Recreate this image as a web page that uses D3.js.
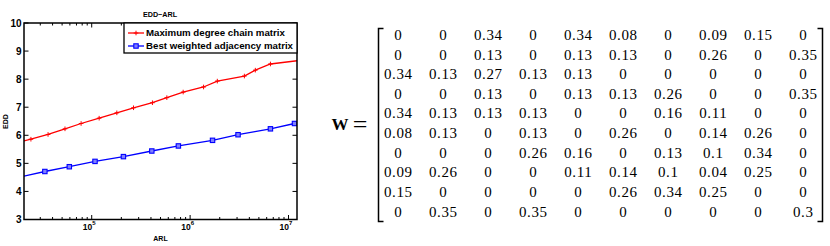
<!DOCTYPE html>
<html>
<head>
<meta charset="utf-8">
<script src="https://cdn.jsdelivr.net/npm/d3@7"></script>
<style>
  html, body { margin: 0; padding: 0; background: #fff; }
  svg { display: block; }
</style>
</head>
<body>
<svg id="chart" width="830" height="246"></svg>
<script>
// ---------- data ----------
const chartTitle = "EDD\u2212ARL";
const xLabel = "ARL";
const yLabel = "EDD";
const seriesNames = ["Maximum degree chain matrix", "Best weighted adjacency matrix"];

const redARL = [1.6e4, 2.41e4, 3.6e4, 5.35e4, 7.8e4, 1.19e5, 1.8e5, 2.66e5, 4.14e5, 5.8e5, 8.5e5, 1.37e6, 1.89e6, 3.56e6, 4.6e6, 6.55e6, 1.4e7];
const redEDD = [5.71, 5.86, 6.03, 6.23, 6.42, 6.61, 6.80, 6.98, 7.16, 7.34, 7.54, 7.72, 7.93, 8.11, 8.32, 8.54, 8.68];

const blueARL = [1.8e4, 3.34e4, 5.92e4, 1.08e5, 2.1e5, 4.08e5, 7.6e5, 1.69e6, 3.07e6, 6.55e6, 1.15e7];
const blueEDD = [4.50, 4.71, 4.88, 5.07, 5.24, 5.44, 5.62, 5.82, 6.02, 6.23, 6.42];

const xDomain = [2.05e4, 1.22e7];
const yDomain = [3, 10];
const yTicks = [3, 4, 5, 6, 7, 8, 9, 10];
const xMajorExp = [5, 6, 7];

const matrixName = "W";
const row1  = ["0", "0", "0.34", "0", "0.34", "0.08", "0", "0.09", "0.15", "0"];
const row2  = ["0", "0", "0.13", "0", "0.13", "0.13", "0", "0.26", "0", "0.35"];
const row3  = ["0.34", "0.13", "0.27", "0.13", "0.13", "0", "0", "0", "0", "0"];
const row4  = ["0", "0", "0.13", "0", "0.13", "0.13", "0.26", "0", "0", "0.35"];
const row5  = ["0.34", "0.13", "0.13", "0.13", "0", "0", "0.16", "0.11", "0", "0"];
const row6  = ["0.08", "0.13", "0", "0.13", "0", "0.26", "0", "0.14", "0.26", "0"];
const row7  = ["0", "0", "0", "0.26", "0.16", "0", "0.13", "0.1", "0.34", "0"];
const row8  = ["0.09", "0.26", "0", "0", "0.11", "0.14", "0.1", "0.04", "0.25", "0"];
const row9  = ["0.15", "0", "0", "0", "0", "0.26", "0.34", "0.25", "0", "0"];
const row10 = ["0", "0.35", "0", "0.35", "0", "0", "0", "0", "0", "0.3"];
const matrixRows = [row1, row2, row3, row4, row5, row6, row7, row8, row9, row10];

// ---------- chart ----------
const svg = d3.select("#chart");
const L = 24, R = 297, T = 23, B = 219.5;
const x = d3.scaleLog().domain(xDomain).range([L, R]);
const y = d3.scaleLinear().domain(yDomain).range([B, T]);
const sans = "'Liberation Sans', Arial, sans-serif";

svg.append("defs").append("clipPath").attr("id", "plotclip")
  .append("rect").attr("x", L).attr("y", T).attr("width", R - L).attr("height", B - T);

// ticks (inside, all four sides)
const minorVals = [];
for (let e = 4; e <= 7; e++) for (let m = 1; m <= 9; m++) {
  const v = m * Math.pow(10, e);
  if (v >= xDomain[0] && v <= xDomain[1]) minorVals.push(v);
}
const tickG = svg.append("g").attr("stroke", "#000").attr("stroke-width", 1);
minorVals.forEach(v => {
  const major = Math.abs(Math.log10(v) - Math.round(Math.log10(v))) < 1e-9;
  const len = major ? 4.5 : 2.5;
  tickG.append("line").attr("x1", x(v)).attr("x2", x(v)).attr("y1", B).attr("y2", B - len);
  tickG.append("line").attr("x1", x(v)).attr("x2", x(v)).attr("y1", T).attr("y2", T + len);
});
yTicks.forEach(v => {
  tickG.append("line").attr("x1", L).attr("x2", L + 4.5).attr("y1", y(v)).attr("y2", y(v));
  tickG.append("line").attr("x1", R).attr("x2", R - 4.5).attr("y1", y(v)).attr("y2", y(v));
});

// y tick labels
svg.append("g").selectAll("text").data(yTicks).join("text")
  .attr("x", L - 2.5).attr("y", d => y(d)).attr("dy", "0.35em")
  .attr("text-anchor", "end").attr("font-family", sans).attr("font-weight", "bold")
  .attr("font-size", 10).text(d => d);

// x tick labels 10^n
const xl = svg.append("g");
xMajorExp.forEach(e => {
  const t = xl.append("text").attr("x", x(Math.pow(10, e)) - 2.5).attr("y", 229.5)
    .attr("text-anchor", "middle").attr("font-family", sans).attr("font-weight", "bold").attr("font-size", 8.5);
  t.append("tspan").text("10");
  t.append("tspan").attr("dy", -5).attr("font-size", 6).text(e);
});

// lines
const line = d3.line().x(d => x(d[0])).y(d => y(d[1]));
const plot = svg.append("g").attr("clip-path", "url(#plotclip)");
const red = redARL.map((v, i) => [v, redEDD[i]]);
const blue = blueARL.map((v, i) => [v, blueEDD[i]]);
plot.append("path").datum(red).attr("d", line).attr("fill", "none").attr("stroke", "#ff0000").attr("stroke-width", 1.3);
plot.append("path").datum(blue).attr("d", line).attr("fill", "none").attr("stroke", "#0000ff").attr("stroke-width", 1.3);

const plusPath = (cx, cy, s) => `M${cx - s},${cy}H${cx + s}M${cx},${cy - s}V${cy + s}`;
plot.append("g").selectAll("path").data(red).join("path")
  .attr("d", d => plusPath(x(d[0]), y(d[1]), 2.3)).attr("stroke", "#ff0000").attr("stroke-width", 1);
plot.append("g").selectAll("rect").data(blue).join("rect")
  .attr("x", d => x(d[0]) - 2.2).attr("y", d => y(d[1]) - 2.2).attr("width", 4.4).attr("height", 4.4)
  .attr("fill", "#8080ff").attr("stroke", "#0000ff").attr("stroke-width", 1.1);

// frame
svg.append("rect").attr("x", L).attr("y", T).attr("width", R - L).attr("height", B - T)
  .attr("fill", "none").attr("stroke", "#000").attr("stroke-width", 1.5);

// legend
const lg = svg.append("g");
lg.append("rect").attr("x", 124).attr("y", T).attr("width", R - 124).attr("height", 30)
  .attr("fill", "#fff").attr("stroke", "#000").attr("stroke-width", 1.3);
const legY = [33, 46];
const legColors = ["#ff0000", "#0000ff"];
seriesNames.forEach((name, i) => {
  lg.append("line").attr("x1", 128).attr("x2", 144).attr("y1", legY[i]).attr("y2", legY[i])
    .attr("stroke", legColors[i]).attr("stroke-width", 1.3);
  if (i === 0) lg.append("path").attr("d", plusPath(136, legY[i], 2.3)).attr("stroke", "#ff0000").attr("stroke-width", 1);
  else lg.append("rect").attr("x", 136 - 2.2).attr("y", legY[i] - 2.2).attr("width", 4.4).attr("height", 4.4)
    .attr("fill", "#8080ff").attr("stroke", "#0000ff").attr("stroke-width", 1.1);
  lg.append("text").attr("x", 146).attr("y", legY[i]).attr("dy", "0.36em")
    .attr("font-family", sans).attr("font-weight", "bold").attr("font-size", 9.7).text(name);
});

// title & axis labels
svg.append("text").attr("x", (L + R) / 2 - 0.5).attr("y", 16.5).attr("text-anchor", "middle")
  .attr("font-family", sans).attr("font-weight", "bold").attr("font-size", 7.2).text(chartTitle);
svg.append("text").attr("x", (L + R) / 2).attr("y", 241).attr("text-anchor", "middle")
  .attr("font-family", sans).attr("font-weight", "bold").attr("font-size", 7).text(xLabel);
svg.append("text").attr("transform", `translate(8,121.5) rotate(-90)`).attr("text-anchor", "middle")
  .attr("font-family", sans).attr("font-weight", "bold").attr("font-size", 7).text(yLabel);

// ---------- matrix ----------
const serif = "'Liberation Serif', 'DejaVu Serif', serif";
const cx = d3.scalePoint().domain(d3.range(10)).range([398, 803]);
const ry = d3.scalePoint().domain(d3.range(10)).range([35, 211.7]);
const mg = svg.append("g");
matrixRows.forEach((row, i) => {
  mg.append("g").selectAll("text").data(row).join("text")
    .attr("x", (d, j) => cx(j) + 0.3).attr("y", ry(i)).attr("dy", "0.33em")
    .attr("text-anchor", "middle").attr("font-family", serif).attr("font-size", 15)
    .attr("letter-spacing", 0.6).attr("fill", "#000").text(d => d);
});
// brackets
const bt = 28.5, bb = 221.5;
mg.append("path").attr("d", `M383.5,${bt}H378.5V${bb}H383.5`).attr("fill", "none").attr("stroke", "#000").attr("stroke-width", 1.5);
mg.append("path").attr("d", `M817.5,${bt}H822.5V${bb}H817.5`).attr("fill", "none").attr("stroke", "#000").attr("stroke-width", 1.5);
// W =
mg.append("text").attr("x", 331.5).attr("y", 124).attr("dy", "0.35em")
  .attr("font-family", serif).attr("font-weight", "bold").attr("font-size", 17).text(matrixName);
mg.append("text").attr("x", 360).attr("y", 124).attr("dy", "0.35em").attr("text-anchor", "middle")
  .attr("font-family", serif).attr("font-size", 26).text("=");
</script>
</body>
</html>
